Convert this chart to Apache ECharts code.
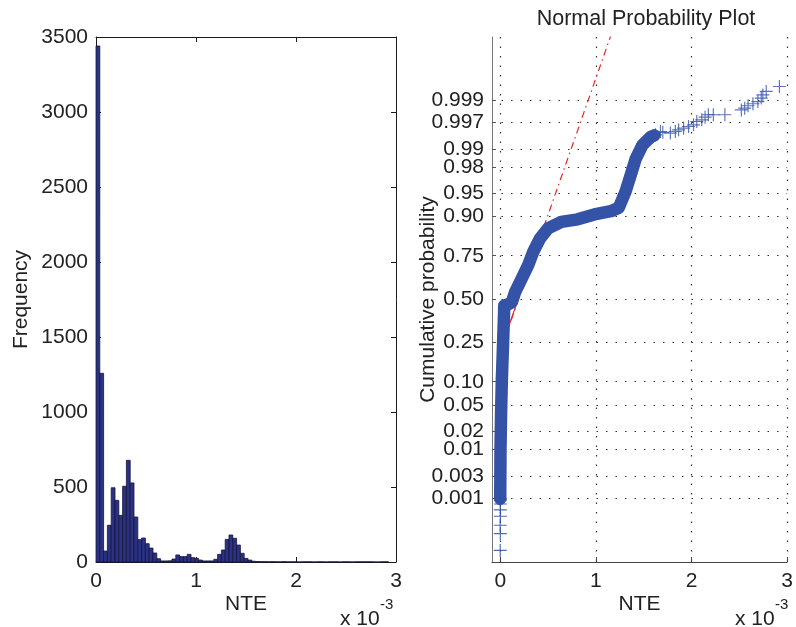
<!DOCTYPE html>
<html>
<head>
<meta charset="utf-8">
<script src="https://cdn.jsdelivr.net/npm/echarts@6/dist/echarts.min.js"></script>
<style>
html,body{margin:0;padding:0;background:#fff;}
#chart{width:796px;height:627px;}
</style>
</head>
<body>
<div id="chart"></div>
<script>
// ---------------- data ----------------
// Histogram (NTE in units of 1e-3), bins of equal width starting at 0
const histBinWidth = 0.038;
const histCounts = [3440,1258,73,245,495,411,311,505,678,527,300,149,160,122,93,60,22,7,7,8,
  20,47,36,36,51,29,24,13,7,7,7,18,51,80,151,180,158,113,58,24,
  13,5,3,2,2,1,2,1,1,2,1,1,1,0,1,1,1,0,1,1,
  0,1,1,1,0,1,1,0,1,1,1,1,1,0,0,1,1];
const histXTicks = [0,1,2,3];
const histYTicks = [0,500,1000,1500,2000,2500,3000,3500];

// Normal probability plot: dense band of data (x, cumulative probability)
const bandX = [0.000,0.003,0.010,0.017,0.030,0.040,0.042,0.080,0.120,0.156,0.225,0.293,0.345,0.415,0.500,0.639,0.810,0.984,1.157,1.240,1.310,1.365,1.417,1.486,1.573,1.610];
const bandP = [0.00097,0.0107,0.0446,0.1056,0.2483,0.4129,0.4602,0.4681,0.4801,0.5438,0.6255,0.7019,0.7688,0.8264,0.8643,0.8849,0.8925,0.9057,0.9140,0.9222,0.9525,0.9732,0.9854,0.9916,0.9941,0.9945];
// Sparse lower-tail markers
const lowX = [0.000,0.001,0.000,0.002,0.001,0.002,0.002,0.003];
const lowP = [0.000048,0.000136,0.000224,0.000376,0.000538,0.000736,0.000904,0.00098];
// Sparse upper-tail markers
const highX = [1.623,1.675,1.700,1.779,1.831,1.865,1.917,1.969,2.021,2.055,2.107,2.142,2.176,2.228,2.349,2.521,2.556,2.591,2.642,2.694,2.729,2.746,2.781,2.919];
const highP = [0.99463,0.99538,0.99520,0.99503,0.99538,0.99572,0.99603,0.99632,0.99660,0.99709,0.99732,0.99764,0.99790,0.99790,0.99790,0.99835,0.99849,0.99866,0.99879,0.99892,0.99910,0.99924,0.99937,0.99952];
// Reference line (quartile fit): solid between quartiles, dash-dot extension
const refSolidX = [0.03,0.345];
const refSolidP = [0.25,0.75];
const refExtX = [0.0,1.16];
const refExtP = [0.209,0.99998];
// Probability axis ticks
const probTickValues = [0.001,0.003,0.01,0.02,0.05,0.10,0.25,0.50,0.75,0.90,0.95,0.98,0.99,0.997,0.999];
const probTickLabels = ['0.001','0.003','0.01','0.02','0.05','0.10','0.25','0.50','0.75','0.90','0.95','0.98','0.99','0.997','0.999'];
const probXTicks = [0,1,2,3];

// ------------- probit scale transform -------------
function probit(p){
  const a=[-3.969683028665376e+01,2.209460984245205e+02,-2.759285104469687e+02,1.383577518672690e+02,-3.066479806614716e+01,2.506628277459239e+00];
  const b=[-5.447609879822406e+01,1.615858368580409e+02,-1.556989798598866e+02,6.680131188771972e+01,-1.328068155288572e+01];
  const c=[-7.784894002430293e-03,-3.223964580411365e-01,-2.400758277161838e+00,-2.549732539343734e+00,4.374664141464968e+00,2.938163982698783e+00];
  const d=[7.784695709041462e-03,3.224671290700398e-01,2.445134137142996e+00,3.754408661907416e+00];
  const pl=0.02425, ph=1-pl; let q,r;
  if(p<pl){q=Math.sqrt(-2*Math.log(p));return (((((c[0]*q+c[1])*q+c[2])*q+c[3])*q+c[4])*q+c[5])/((((d[0]*q+d[1])*q+d[2])*q+d[3])*q+1);}
  if(p<=ph){q=p-0.5;r=q*q;return (((((a[0]*r+a[1])*r+a[2])*r+a[3])*r+a[4])*r+a[5])*q/(((((b[0]*r+b[1])*r+b[2])*r+b[3])*r+b[4])*r+1);}
  q=Math.sqrt(-2*Math.log(1-p));return -(((((c[0]*q+c[1])*q+c[2])*q+c[3])*q+c[4])*q+c[5])/((((d[0]*q+d[1])*q+d[2])*q+d[3])*q+1);
}
const zip = (xs, ps) => xs.map((x,i)=>[x, probit(ps[i])]);
const probTickZ = probTickValues.map(probit);

// ------------- styles -------------
const FONT = 'Liberation Sans, Arial, Helvetica, sans-serif';
const TXT = '#222';
const FS = 21;
const BLUE = '#3452A6';
const plusPath = 'path://M-1,-0.09H1V0.09H-1Z M-0.09,-1H0.09V1H-0.09Z';

const histData = histCounts.map((c,i)=>[i*histBinWidth,(i+1)*histBinWidth,c]);

const chart = echarts.init(document.getElementById('chart'), null, {renderer:'canvas'});
const boxAxis = {onZero:false,lineStyle:{color:'#1a1a1a',width:1}};
const dotted = {show:true,lineStyle:{type:[1.5,8],color:'#333',width:1.2}};
const plain = v => String(v);

chart.setOption({
  animation:false,
  backgroundColor:'#fff',
  textStyle:{fontFamily:FONT},
  title:{text:'Normal Probability Plot',left:641,top:3,textAlign:'center',
    textStyle:{fontFamily:FONT,fontSize:21.5,fontWeight:'normal',color:TXT}},
  grid:[
    {left:96,right:400,top:37,bottom:65},
    {left:492,right:5,top:37,bottom:65}
  ],
  xAxis:[
    {gridIndex:0,type:'value',min:0,max:3,interval:1,position:'bottom',
     name:'NTE',nameLocation:'middle',nameGap:32,nameMoveOverlap:false,nameTextStyle:{fontSize:FS,color:TXT,fontFamily:FONT},
     axisLine:boxAxis,axisTick:{inside:true,length:5,lineStyle:{color:'#1a1a1a'}},
     axisLabel:{fontSize:FS,color:TXT,margin:9,fontFamily:FONT,formatter:plain},splitLine:{show:false}},
    {gridIndex:0,type:'value',min:0,max:3,interval:1,position:'top',
     axisLine:boxAxis,axisTick:{inside:true,length:5,lineStyle:{color:'#1a1a1a'}},
     axisLabel:{show:false},splitLine:{show:false}},
    {gridIndex:1,type:'value',min:-0.086,max:3.0,position:'bottom',
     name:'NTE',nameLocation:'middle',nameGap:32,nameMoveOverlap:false,nameTextStyle:{fontSize:FS,color:TXT,fontFamily:FONT},
     axisLine:{onZero:false,lineStyle:{color:'#444',width:1}},
     axisTick:{inside:true,length:5,customValues:probXTicks,lineStyle:{color:'#444'}},
     axisLabel:{fontSize:FS,color:TXT,margin:9,fontFamily:FONT,customValues:probXTicks,formatter:plain},
     splitLine:dotted}
  ],
  yAxis:[
    {gridIndex:0,type:'value',min:0,max:3500,interval:500,position:'left',
     name:'Frequency',nameLocation:'middle',nameGap:64,nameMoveOverlap:false,nameTextStyle:{fontSize:FS,color:TXT,fontFamily:FONT},
     axisLine:boxAxis,axisTick:{inside:true,length:5,lineStyle:{color:'#1a1a1a'}},
     axisLabel:{fontSize:FS,color:TXT,margin:8,fontFamily:FONT,formatter:plain},splitLine:{show:false}},
    {gridIndex:0,type:'value',min:0,max:3500,interval:500,position:'right',
     axisLine:boxAxis,axisTick:{inside:true,length:5,lineStyle:{color:'#1a1a1a'}},
     axisLabel:{show:false},splitLine:{show:false}},
    {gridIndex:1,type:'value',min:-4.08,max:4.07,position:'left',
     name:'Cumulative probability',nameLocation:'middle',nameGap:53,nameMoveOverlap:false,nameTextStyle:{fontSize:FS,color:TXT,fontFamily:FONT},
     axisLine:{onZero:false,lineStyle:{color:'#777',width:1}},
     axisTick:{inside:true,length:4,customValues:probTickZ,lineStyle:{color:'#555'}},
     axisLabel:{fontSize:FS,color:TXT,margin:8,fontFamily:FONT,customValues:probTickZ,
       formatter:function(v){for(let i=0;i<probTickZ.length;i++){if(Math.abs(probTickZ[i]-v)<1e-6)return probTickLabels[i];}return '';}},
     splitLine:dotted}
  ],
  graphic:[
    {type:'text',left:340,top:609,style:{text:'x 10',font:'21px '+FONT,fill:TXT}},
    {type:'text',left:380,top:597,style:{text:'-3',font:'15px '+FONT,fill:TXT}},
    {type:'text',left:735,top:609,style:{text:'x 10',font:'21px '+FONT,fill:TXT}},
    {type:'text',left:775,top:597,style:{text:'-3',font:'15px '+FONT,fill:TXT}}
  ],
  series:[
    {type:'custom',xAxisIndex:0,yAxisIndex:0,data:histData,encode:{x:[0,1],y:2},
     renderItem:function(params,api){
       const p0=api.coord([api.value(0),api.value(2)]);
       const p1=api.coord([api.value(1),0]);
       return {type:'rect',shape:{x:p0[0],y:p0[1],width:p1[0]-p0[0],height:p1[1]-p0[1]},
         style:{fill:'#2B3283',stroke:'#15153a',lineWidth:0.8}};
     }},
    {type:'line',xAxisIndex:2,yAxisIndex:2,data:zip(refExtX,refExtP),symbol:'none',
     lineStyle:{color:'#E8262A',width:1.2,type:[7,4,1.5,4]},z:2},
    {type:'line',xAxisIndex:2,yAxisIndex:2,data:zip(refSolidX,refSolidP),symbol:'none',
     lineStyle:{color:'#E8262A',width:1.2},z:2},
    {type:'line',xAxisIndex:2,yAxisIndex:2,data:zip(bandX,bandP),symbol:'none',
     lineStyle:{color:BLUE,width:12.5,cap:'round',join:'round'},z:3},
    {type:'scatter',xAxisIndex:2,yAxisIndex:2,data:zip(lowX,lowP),symbol:plusPath,symbolSize:13,
     itemStyle:{color:BLUE,opacity:0.85},z:4},
    {type:'scatter',xAxisIndex:2,yAxisIndex:2,data:zip(highX,highP),symbol:plusPath,symbolSize:13,
     itemStyle:{color:BLUE},z:4}
  ]
});
</script>
</body>
</html>
